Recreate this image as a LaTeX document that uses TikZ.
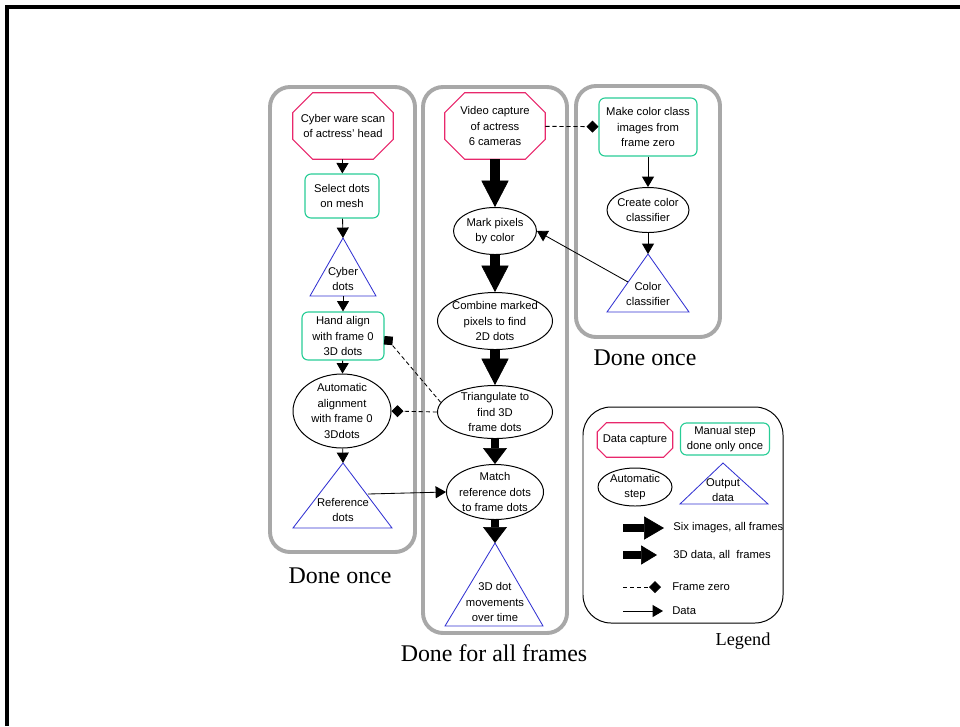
\documentclass[tikz,border=0pt]{standalone}
\usepackage{fontspec}
\setmainfont{Liberation Serif}
\setsansfont{Liberation Sans}
\usetikzlibrary{shapes.geometric,arrows.meta}
\definecolor{capred}{RGB}{232,40,108}
\definecolor{mangreen}{RGB}{40,205,150}
\definecolor{outblue}{RGB}{50,50,210}
\definecolor{grpgray}{RGB}{168,168,168}
\tikzset{
  txt/.style={font=\sffamily\fontsize{8}{11}\selectfont, align=center, inner sep=0pt},
  capture/.style={txt, rectangle, minimum width=25mm, minimum height=16.5mm},
  manual/.style={txt, rectangle, rounded corners=1.5mm, draw=mangreen, line width=0.8pt},
  autostep/.style={txt, ellipse, draw, line width=0.7pt, inner sep=-15mm},
  outdata/.style={draw=outblue, line width=0.6pt},
  grp/.style={draw=grpgray, line width=2.8pt, rounded corners=5mm},
  flow/.style={draw, line width=0.6pt, -{Triangle[width=3mm,length=2.6mm]}},
  bigflow/.style={draw, line width=7pt, -{Triangle[width=6.8mm,length=6.6mm,line width=0.5pt]}},
  midflow/.style={draw, line width=6pt, -{Triangle[width=6mm,length=4mm,line width=0.5pt]}},
  frzero/.style={draw, line width=0.6pt, dash pattern=on 3pt off 2pt, -{Diamond[width=3mm,length=3mm]}},
  donelabel/.style={font=\fontsize{17}{20}\selectfont}
}
% octagon outline around a capture node
\newcommand\capoutline[2][5mm]{%
  \draw[capred, line width=0.8pt] ([xshift=#1]#2.north west) -- ([xshift=-#1]#2.north east)
    -- ([yshift=-#1]#2.north east) -- ([yshift=#1]#2.south east)
    -- ([xshift=-#1]#2.south east) -- ([xshift=#1]#2.south west)
    -- ([yshift=#1]#2.south west) -- ([yshift=-#1]#2.north west) -- cycle;}
\begin{document}
\begin{tikzpicture}[x=0.25mm, y=-0.25mm]
\useasboundingbox (0,0) rectangle (960,726);
\draw[line width=2.2pt] (7,726) -- (7,7) -- (960,7);

% groups
\draw[grp] (270,87) rectangle (415,552);
\draw[grp] (423,87) rectangle (567,633);
\draw[grp] (576,86) rectangle (720,337);
\node[donelabel] (onceL) at (340,576) {Done once};
\node[donelabel] (allfr) at (494,653) {Done for all frames};
\node[donelabel] (onceR) at (645,358) {Done once};

% left column
\node[capture] (scan) at (343,126) {Cyber ware scan\\of actress' head};
\capoutline{scan}
\node[manual, minimum width=18.5mm, minimum height=11mm] (sel) at (342,196) {Select dots\\on mesh};
\draw[outdata] (310,296) -- (343,238) -- (376,296) -- cycle;
\coordinate (cybtop) at (343,238);
\coordinate (cybbot) at (343,296);
\node[txt] (cyb) at (343,279) {Cyber\\dots};
\node[manual, minimum width=20.5mm, minimum height=12mm] (hand) at (343,336) {Hand align\\with frame 0\\3D dots};
\node[autostep, minimum width=24.5mm, minimum height=18.5mm] (auto) at (342,411) {Automatic\\alignment\\with frame 0\\3Ddots};
\draw[outdata] (293,528) -- (343,463) -- (392,528) -- cycle;
\coordinate (reftop) at (343,463);
\coordinate (refR) at (368,494);
\node[txt] (ref) at (343,510) {Reference\\dots};

% middle column
\node[capture] (video) at (495,126) {Video capture\\of actress\\6 cameras};
\capoutline{video}
\node[autostep, minimum width=20.75mm, minimum height=11.75mm] (mark) at (495,231) {Mark pixels\\by color};
\node[autostep, minimum width=28.75mm, minimum height=14.25mm] (comb) at (495,321) {Combine marked\\pixels to find\\2D dots};
\node[autostep, minimum width=28.75mm, minimum height=13.25mm] (tri) at (495,412) {Triangulate to\\find 3D\\frame dots};
\node[autostep, minimum width=24.25mm, minimum height=13.75mm] (match) at (495,492) {Match\\reference dots\\to frame dots};
\draw[outdata] (445,626) -- (495,543) -- (543,626) -- cycle;
\coordinate (mvtop) at (495,543);
\node[txt] (mv) at (495,602) {3D dot\\movements\\over time};

% right column
\node[manual, minimum width=24.5mm, minimum height=14.5mm] (make) at (648,127) {Make color class\\images from\\frame zero};
\node[autostep, minimum width=20.5mm, minimum height=11.25mm] (create) at (648,210) {Create color\\classifier};
\draw[outdata] (607,312) -- (648,254) -- (689,312) -- cycle;
\coordinate (clstop) at (648,254);
\coordinate (clsL) at (628,282);
\node[txt] (cls) at (648,294) {Color\\classifier};

% connectors
\draw[flow] (scan) -- (sel);
\draw[flow] (sel) -- (cybtop);
\draw[flow] (cybbot) -- (hand);
\draw[flow] (hand) -- (auto);
\draw[flow] (auto) -- (reftop);
\draw[flow] (refR) -- (match.west);
\draw[bigflow] (video) -- (mark);
\draw[bigflow] (mark) -- (comb);
\draw[bigflow] (comb) -- (tri);
\draw[midflow] (tri) -- (match);
\draw[midflow] (match) -- (mvtop);
\draw[flow] (make) -- (create);
\draw[flow] (create) -- (clstop);
\draw[flow] (clsL) -- (mark.east);
\draw[frzero] (video) -- (make);
\draw[frzero] (tri.170) -- (hand.east);
\draw[frzero] (tri.west) -- (auto.east);

% legend
\draw[rounded corners=7mm, line width=0.7pt] (583,407) rectangle (783,623);
\node[font=\fontsize{13}{15}\selectfont] (leg) at (743,641) {Legend};
\node[capture, minimum width=18.75mm, minimum height=8.5mm] (lcap) at (635,440) {Data capture};
\capoutline[2.3mm]{lcap}
\node[manual, minimum width=22.25mm, minimum height=8mm] (lman) at (725,439) {Manual step\\done only once};
\node[autostep, minimum width=18.5mm, minimum height=9.5mm] (lauto) at (635,487) {Automatic\\step};
\draw[outdata] (680,504) -- (723,463) -- (768,504) -- cycle;
\node[txt] (lout) at (723,490) {Output\\data};
\coordinate (lsix0) at (623,528);
\coordinate (lsix1) at (664,528);
\draw[bigflow, line width=5.5pt, -{Triangle[width=5.8mm,length=5mm,line width=0.5pt]}] (lsix0) -- (lsix1);
\node[txt, anchor=west] (lsix) at (673,528) {Six images, all frames};
\coordinate (lthr0) at (623,555);
\coordinate (lthr1) at (657,555);
\draw[midflow, line width=5pt, -{Triangle[width=4.8mm,length=4mm,line width=0.5pt]}] (lthr0) -- (lthr1);
\node[txt, anchor=west] (lthr) at (673,555) {3D data, all\ \ frames};
\coordinate (lfz0) at (623,587);
\coordinate (lfz1) at (661,587);
\draw[frzero] (lfz0) -- (lfz1);
\node[txt, anchor=west] (lfz) at (672,587) {Frame zero};
\coordinate (ldat0) at (623,611);
\coordinate (ldat1) at (663,611);
\draw[flow] (ldat0) -- (ldat1);
\node[txt, anchor=west] (ldat) at (672,611) {Data};
\end{tikzpicture}
\end{document}
